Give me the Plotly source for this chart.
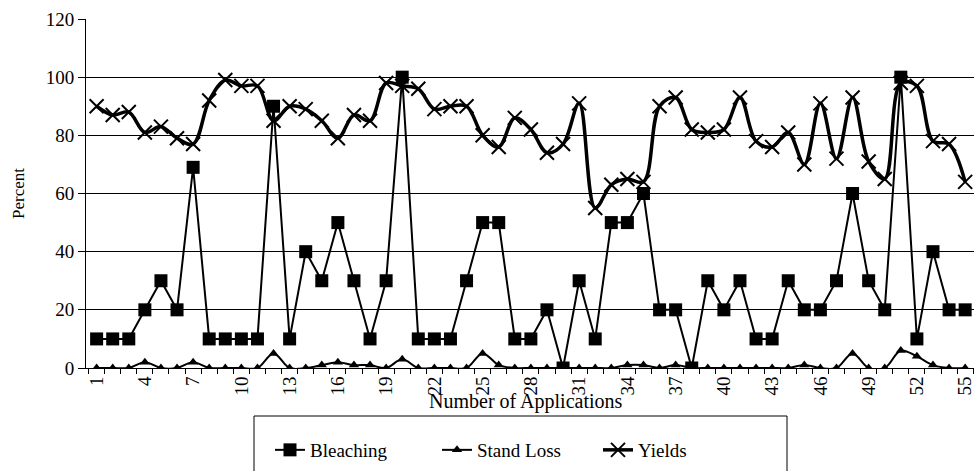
import plotly.graph_objects as go

# Application number (category axis)
applications = list(range(1, 56))

# Percent values per application
bleaching = [10, 10, 10, 20, 30, 20, 69, 10, 10, 10,
             10, 90, 10, 40, 30, 50, 30, 10, 30, 100,
             10, 10, 10, 30, 50, 50, 10, 10, 20, 0,
             30, 10, 50, 50, 60, 20, 20, 0, 30, 20,
             30, 10, 10, 30, 20, 20, 30, 60, 30, 20,
             100, 10, 40, 20, 20]

stand_loss = [0, 0, 0, 2, 0, 0, 2, 0, 0, 0,
              0, 5, 0, 0, 1, 2, 1, 1, 0, 3,
              0, 0, 0, 0, 5, 1, 0, 0, 0, 0,
              0, 0, 0, 1, 1, 0, 1, 0, 0, 0,
              0, 0, 0, 0, 1, 0, 0, 5, 0, 0,
              6, 4, 1, 0, 0]

yields = [90, 87, 88, 81, 83, 79, 77, 92, 99, 97,
          97, 85, 90, 89, 85, 79, 87, 85, 98, 97,
          96, 89, 90, 90, 80, 76, 86, 82, 74, 77,
          91, 55, 63, 65, 64, 90, 93, 82, 81, 82,
          93, 78, 76, 81, 70, 91, 72, 93, 71, 65,
          98, 97, 78, 77, 64]

x_tick_vals = list(range(1, 56, 3))
x_tick_text = [str(v) for v in x_tick_vals]
y_tick_vals = [0, 20, 40, 60, 80, 100, 120]

SERIF = "'Liberation Serif', 'DejaVu Serif', serif"

fig = go.Figure()

fig.add_trace(go.Scatter(
    x=applications, y=bleaching, name="Bleaching", mode="lines+markers",
    line=dict(color="black", width=2),
    marker=dict(symbol="square", size=13, color="black"),
    legend="legend", showlegend=True,
))
fig.add_trace(go.Scatter(
    x=applications, y=stand_loss, name="Stand Loss", mode="lines+markers",
    line=dict(color="black", width=2, shape="spline", smoothing=1),
    marker=dict(symbol="triangle-up", size=9, color="black"),
    legend="legend2", showlegend=True,
))
fig.add_trace(go.Scatter(
    x=applications, y=yields, name="Yields", mode="lines+markers",
    line=dict(color="black", width=3.5, shape="spline", smoothing=1),
    marker=dict(symbol="x-thin-open", size=14, color="black",
                line=dict(color="black", width=2)),
    legend="legend3", showlegend=True,
))

# plot area spans pixels 86..974 horizontally and 19..368 vertically
L, T, W, H = 86, 19, 888, 349


def px_to_paper_y(py):
    return 1 - (py - T) / H


def px_to_paper_x(px):
    return (px - L) / W


legend_common = dict(orientation="h", bgcolor="rgba(0,0,0,0)", borderwidth=0,
                     font=dict(family=SERIF, size=19, color="black"),
                     xanchor="left", yanchor="middle", itemwidth=30)

fig.update_layout(
    width=974, height=471,
    margin=dict(l=L, r=0, t=T, b=471 - T - H, autoexpand=False),
    paper_bgcolor="white", plot_bgcolor="white",
    font=dict(family=SERIF, size=19, color="black"),
    showlegend=True,
    legend=dict(legend_common, x=px_to_paper_x(270), y=px_to_paper_y(450)),
    legend2=dict(legend_common, x=px_to_paper_x(437), y=px_to_paper_y(450)),
    legend3=dict(legend_common, x=px_to_paper_x(598), y=px_to_paper_y(450)),
    xaxis=dict(
        range=[0.34, 55.55], tickmode="array", tickvals=x_tick_vals,
        ticktext=x_tick_text, tickangle=-90, ticks="", showgrid=False,
        showline=True, linecolor="black", linewidth=1, zeroline=False,
        ticklabelstandoff=0, ticklabeloverflow="allow", automargin=False,
        tickfont=dict(family=SERIF, size=19, color="black"),
        minor=dict(tickmode="array", tickvals=[v + 0.5 for v in range(0, 56)],
                   ticks="outside", ticklen=5, tickcolor="black", showgrid=False),
    ),
    yaxis=dict(
        range=[0, 120], tickmode="array", tickvals=y_tick_vals,
        ticks="outside", ticklen=7, tickcolor="black", automargin=False,
        showgrid=True, gridcolor="black", gridwidth=1,
        showline=True, linecolor="black", linewidth=1, zeroline=False,
        tickfont=dict(family=SERIF, size=19, color="black"),
        title=dict(text="Percent", font=dict(family=SERIF, size=17, color="black"),
                   standoff=16),
    ),
    annotations=[
        dict(text="Number of Applications", xref="paper", yref="paper",
             x=px_to_paper_x(526), y=px_to_paper_y(401), showarrow=False,
             xanchor="center", yanchor="middle",
             font=dict(family=SERIF, size=20, color="black")),
    ],
    shapes=[
        dict(type="rect", xref="paper", yref="paper",
             x0=px_to_paper_x(254), x1=px_to_paper_x(787),
             y0=px_to_paper_y(416), y1=px_to_paper_y(490),
             line=dict(color="black", width=1), fillcolor="rgba(0,0,0,0)",
             layer="below"),
    ],
)

fig.write_html("out.html")
